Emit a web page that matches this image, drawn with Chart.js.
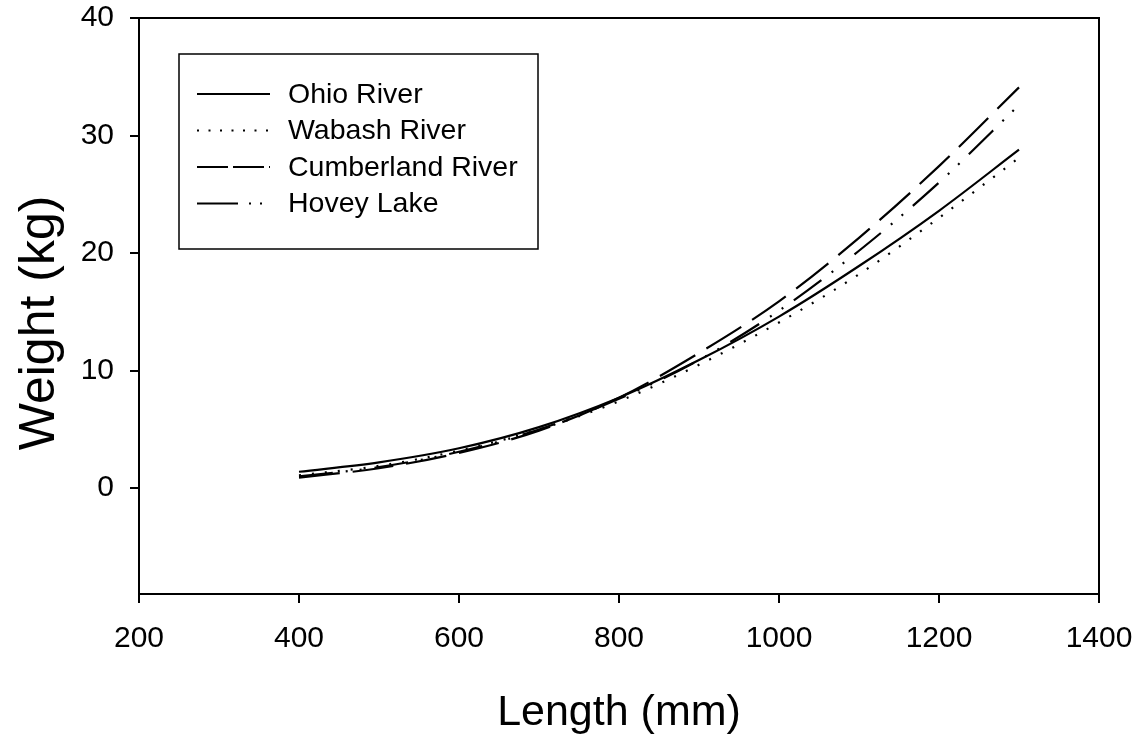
<!DOCTYPE html>
<html>
<head>
<meta charset="utf-8">
<script src="https://cdn.jsdelivr.net/npm/chart.js@4.4.1/dist/chart.umd.min.js"></script>
<style>
  html, body { margin: 0; padding: 0; background: #fff; }
  #wrap { width: 1143px; height: 735px; }
</style>
</head>
<body>
<div id="wrap"><canvas id="lwChart"></canvas></div>
<script>
"use strict";

// Längd (mm) där kurvorna avläses
const lengths = [400, 500, 600, 700, 800, 900, 1000, 1100, 1200, 1300];

// Vikt (kg) per lokal
const ohioRiver       = [1.4, 2.2, 3.4, 5.2, 7.7, 10.9, 14.6, 18.9, 23.6, 28.8];
const wabashRiver     = [1.1, 1.9, 3.2, 5.0, 7.4, 10.5, 14.1, 18.2, 23.0, 28.1];
const cumberlandRiver = [0.9, 1.7, 3.0, 4.9, 7.7, 11.5, 15.9, 21.3, 27.4, 34.1];
const hoveyLake       = [1.0, 1.8, 3.1, 5.0, 7.6, 10.9, 15.1, 20.2, 26.0, 32.6];

const seriesNames = ["Ohio River", "Wabash River", "Cumberland River", "Hovey Lake"];
const xTicks = [200, 400, 600, 800, 1000, 1200, 1400];
const yTicks = [0, 10, 20, 30, 40];

const FONT = "Arial, 'Liberation Sans', Helvetica, sans-serif";

function toPoints(values) {
    return values.map((v, i) => ({ x: lengths[i], y: v }));
}

// Ta bort extra marginal från etiketterna så att ritytan hamnar rätt
function noPad(s) {
    s.paddingTop = 0;
    s.paddingBottom = 0;
    s.paddingLeft = 0;
    s.paddingRight = 0;
}

// Ram runt hela ritytan
const frame = {
    id: "frame",
    afterDraw(chart) {
        const a = chart.chartArea;
        const ctx = chart.ctx;
        ctx.save();
        ctx.strokeStyle = "#000";
        ctx.lineWidth = 2;
        ctx.strokeRect(a.left, a.top, a.right - a.left, a.bottom - a.top);
        ctx.restore();
    }
};

// Y-axelns titel, lite under mitten som i originalet
const yTitle = {
    id: "yTitle",
    afterDraw(chart) {
        const a = chart.chartArea;
        const ctx = chart.ctx;
        ctx.save();
        ctx.translate(40, (a.top + a.bottom) / 2 + 17);
        ctx.rotate(-Math.PI / 2);
        ctx.font = "50px " + FONT;
        ctx.textAlign = "center";
        ctx.textBaseline = "middle";
        ctx.fillStyle = "#000";
        ctx.fillText("Weight (kg)", 0, 0);
        ctx.restore();
    }
};

// Egen förklaring inuti diagrammet
const boxLegend = {
    id: "boxLegend",
    afterDraw(chart) {
        const a = chart.chartArea;
        const ctx = chart.ctx;
        const x0 = a.left + 40, y0 = a.top + 36;
        const w = 359, h = 195;
        ctx.save();
        ctx.fillStyle = "#fff";
        ctx.fillRect(x0, y0, w, h);
        ctx.strokeStyle = "#000";
        ctx.lineWidth = 1.5;
        ctx.strokeRect(x0, y0, w, h);

        ctx.font = "28.5px " + FONT;
        ctx.textBaseline = "middle";
        ctx.fillStyle = "#000";
        chart.data.datasets.forEach((ds, i) => {
            const y = y0 + 40 + i * 36.5;
            ctx.beginPath();
            ctx.setLineDash(ds.legendDash || []);
            ctx.lineWidth = ds.borderWidth;
            ctx.moveTo(x0 + 18, y);
            ctx.lineTo(x0 + 91, y);
            ctx.stroke();
            ctx.setLineDash([]);
            ctx.fillText(ds.label, x0 + 109, y + 1);
        });
        ctx.restore();
    }
};

const ctx = document.getElementById("lwChart");

new Chart(ctx, {
    type: "line",
    data: {
        datasets: [
            { label: seriesNames[0], data: toPoints(ohioRiver), borderDash: [], legendDash: [] },
            { label: seriesNames[1], data: toPoints(wabashRiver), borderDash: [2, 11], legendDash: [2, 9.5] },
            { label: seriesNames[2], data: toPoints(cumberlandRiver), borderDash: [41, 13], legendDash: [31, 5] },
            { label: seriesNames[3], data: toPoints(hoveyLake), borderDash: [34, 13, 2, 12, 2, 13], legendDash: [41, 11, 2, 9, 2, 30] }
        ].map(ds => Object.assign(ds, {
            borderColor: "#000",
            borderWidth: 2.2,
            pointRadius: 0,
            fill: false,
            cubicInterpolationMode: "monotone"
        }))
    },
    options: {
        responsive: true,
        maintainAspectRatio: false,
        animation: false,
        layout: { padding: { top: 18, right: 44, left: 0, bottom: 0 } },
        plugins: {
            legend: { display: false },
            tooltip: { enabled: false }
        },
        scales: {
            x: {
                type: "linear",
                min: 200,
                max: 1400,
                afterBuildTicks: (s) => { s.ticks = xTicks.map(v => ({ value: v })); },
                afterFit: (s) => { s.height = 141; noPad(s); },
                grid: { drawOnChartArea: false, drawTicks: true, tickLength: 9, color: "#000", lineWidth: 2 },
                border: { display: true, color: "#000", width: 2 },
                ticks: {
                    color: "#000",
                    font: { family: FONT, size: 30 },
                    padding: 18,
                    maxRotation: 0,
                    callback: (v) => String(v)
                },
                title: {
                    display: true,
                    text: "Length (mm)",
                    color: "#000",
                    font: { family: FONT, size: 43 },
                    padding: { top: 0, bottom: -4 }
                }
            },
            y: {
                min: -9,
                max: 40,
                afterBuildTicks: (s) => { s.ticks = yTicks.map(v => ({ value: v })); },
                afterFit: (s) => { s.width = 139; noPad(s); },
                grid: { drawOnChartArea: false, drawTicks: true, tickLength: 9, color: "#000", lineWidth: 2 },
                border: { display: true, color: "#000", width: 2 },
                ticks: {
                    color: "#000",
                    font: { family: FONT, size: 30 },
                    padding: 16,
                    callback: (v) => String(v)
                },
                title: { display: false }
            }
        }
    },
    plugins: [frame, yTitle, boxLegend]
});
</script>
</body>
</html>
